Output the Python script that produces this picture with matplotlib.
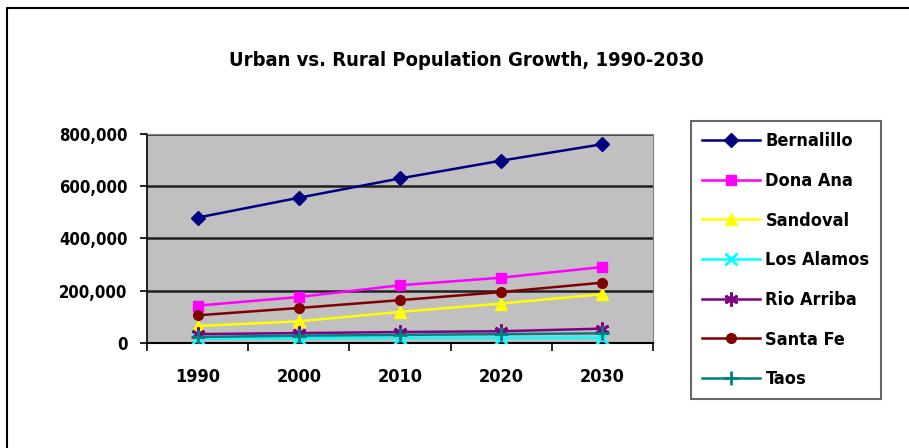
import matplotlib
matplotlib.use("Agg")
import matplotlib.pyplot as plt
from matplotlib.lines import Line2D
from matplotlib.ticker import FuncFormatter

plt.rcParams['font.family'] = ['DejaVu Sans']
plt.rcParams['font.stretch'] = 'condensed'
plt.rcParams['font.weight'] = 'bold'

# data
years = ["1990", "2000", "2010", "2020", "2030"]
bernalillo = [480000, 556000, 630000, 698000, 761000]
dona_ana = [143000, 176000, 221000, 250000, 291000]
sandoval = [65000, 83000, 119000, 151000, 187000]
los_alamos = [18000, 18000, 19000, 19000, 20000]
rio_arriba = [34000, 38000, 42000, 45000, 55000]
santa_fe = [106000, 134000, 164000, 195000, 231000]
taos = [23000, 28000, 31000, 34000, 37000]

series = [
    ("Bernalillo", bernalillo, "#000080", "D", 7),
    ("Dona Ana", dona_ana, "#FF00FF", "s", 7),
    ("Sandoval", sandoval, "#FFFF00", "^", 8),
    ("Los Alamos", los_alamos, "#00FFFF", "x", 8),
    ("Rio Arriba", rio_arriba, "#800080", (6, 2, 0), 10),
    ("Santa Fe", santa_fe, "#800000", "o", 7),
    ("Taos", taos, "#008080", "+", 10),
]

fig = plt.figure(figsize=(9.09, 4.48), dpi=100)
fig.patch.set_facecolor("white")
# outer chart border, only top and left edges are in the picture
fig.add_artist(Line2D([7.5/909, 7.5/909, 1.0], [0.0, 1 - 8.5/448, 1 - 8.5/448],
                      transform=fig.transFigure, color="black", linewidth=1.5))

ax = fig.add_axes([147/909, 1 - 343/448, 506/909, 209/448])
ax.set_facecolor("#C0C0C0")
x = list(range(len(years)))
for name, vals, col, mk, ms in series:
    ax.plot(x, vals, color=col, marker=mk, markersize=ms, linewidth=1.8,
            markeredgewidth=2 if mk in ("x", "+") or isinstance(mk, tuple) else 1,
            markeredgecolor=col, label=name, zorder=3)

ax.set_xlim(-0.5, 4.5)
ax.set_ylim(0, 800000)
ax.set_yticks([0, 200000, 400000, 600000, 800000])
ax.yaxis.set_major_formatter(FuncFormatter(lambda v, p: f"{int(v):,}"))
ax.set_xticks(x)
ax.set_xticklabels(years)
ax.set_xticks([i - 0.5 for i in range(len(years) + 1)], minor=True)
ax.tick_params(axis="x", which="major", length=0, pad=18, labelsize=13)
ax.tick_params(axis="x", which="minor", length=6, width=1.2, direction="out")
ax.tick_params(axis="y", length=5, width=1.2, pad=9, labelsize=12)
ax.grid(axis="y", color="#202020", linewidth=1.8, zorder=1)
ax.set_axisbelow(True)
for s in ("top", "right"):
    ax.spines[s].set_color("#808080")
ax.spines["left"].set_linewidth(1.2)
ax.spines["bottom"].set_linewidth(1.5)

fig.text(466/909, 1 - 60/448, "Urban vs. Rural Population Growth, 1990-2030",
         ha="center", va="center", fontsize=14.5, fontweight="bold")

leg = fig.legend(loc="upper left", bbox_to_anchor=(691/909, 1 - 121/448),
                 frameon=True, fancybox=False, edgecolor="#404040", fontsize=13,
                 handlelength=3.2, handletextpad=0.3, labelspacing=1.2,
                 borderpad=0.62, borderaxespad=0)
leg.get_frame().set_linewidth(1.5)

fig.savefig("out.png", dpi=100)
